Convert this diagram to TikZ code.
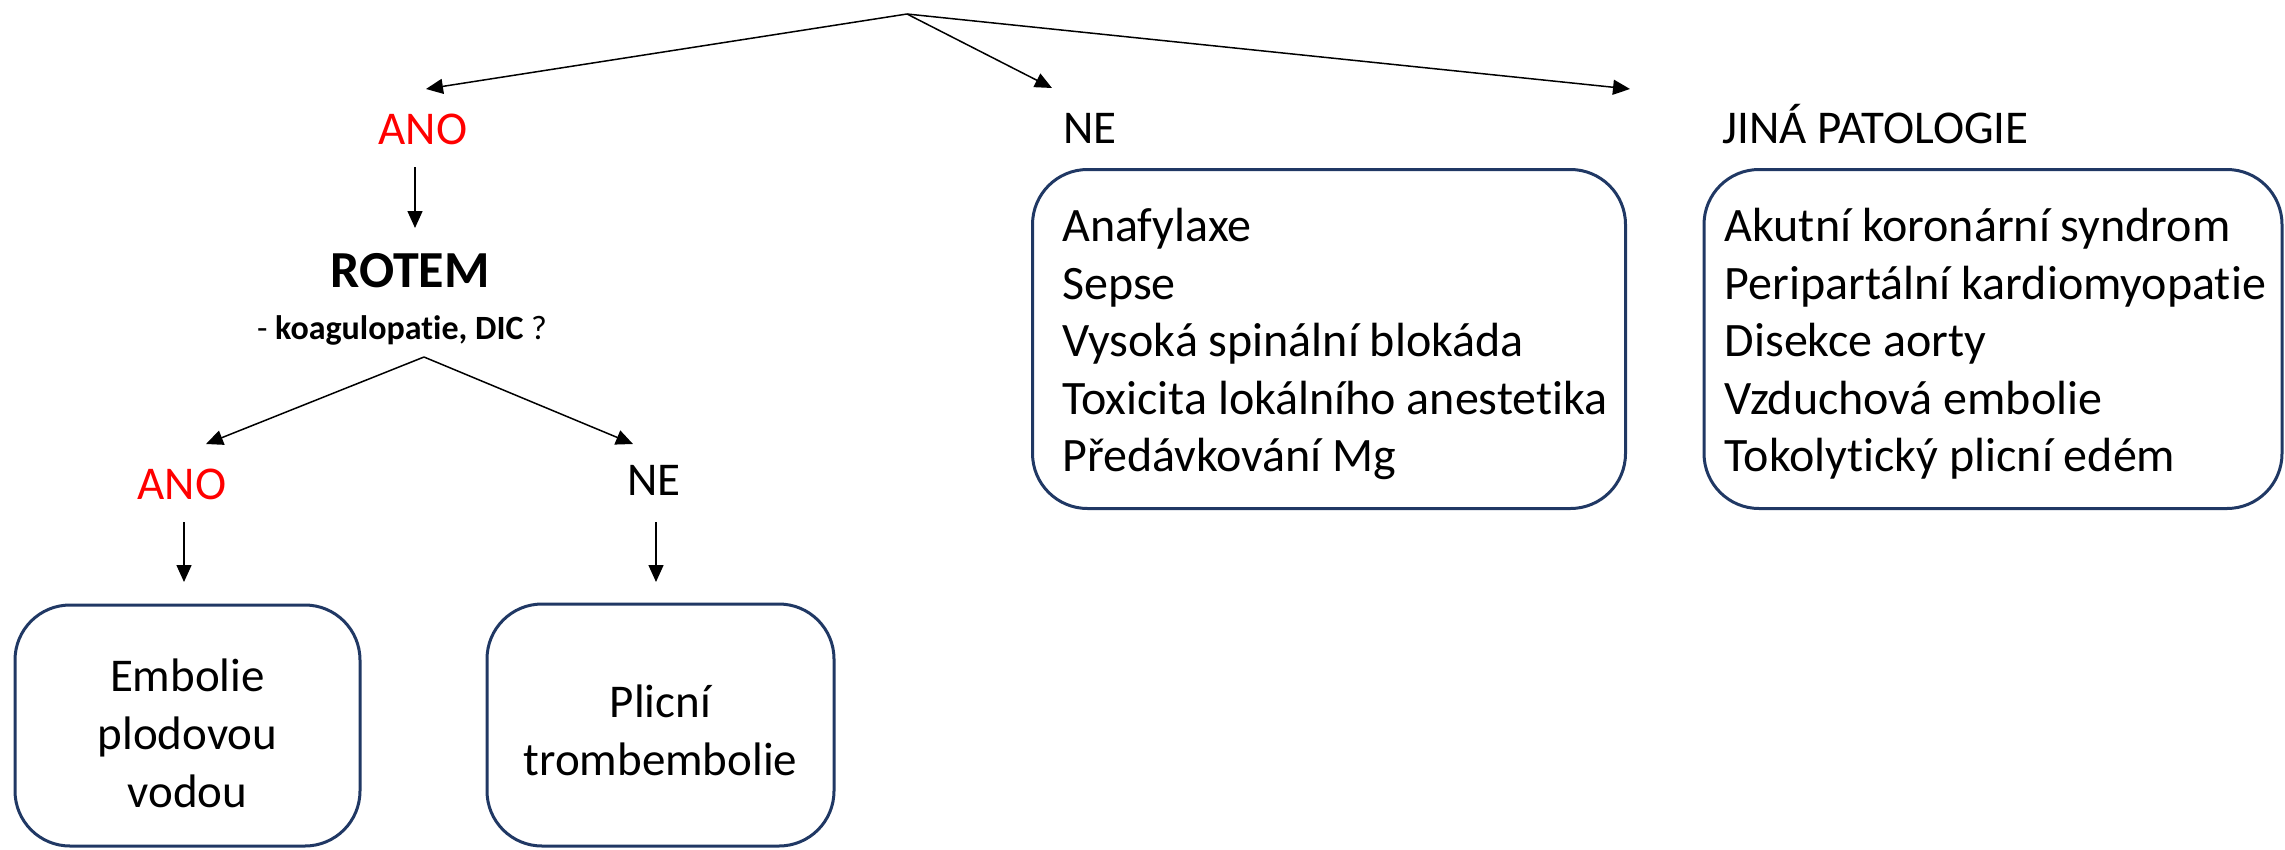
\documentclass[tikz,border=0pt]{standalone}
\usepackage{fontspec}
\setmainfont{Carlito}[Ligatures=NoCommon]
\usetikzlibrary{arrows.meta}
\definecolor{navy}{RGB}{32,56,100}
\definecolor{ared}{RGB}{255,0,0}
\begin{document}
\begin{tikzpicture}[x=1pt,y=-1pt,
  arr/.style={line width=1.5pt,-{Triangle[length=17pt,width=15pt]}},
  lbl/.style={inner sep=0pt,font=\fontsize{47}{56}\selectfont},
  boxshape/.style={draw=navy,line width=3pt,rounded corners=55pt,inner sep=0pt},
  listtext/.style={inner sep=0pt,align=left,font=\fontsize{48}{57.5}\selectfont},
  endtext/.style={inner sep=0pt,align=center,font=\fontsize{47}{58}\selectfont}]
\useasboundingbox (0,0) rectangle (2285,849);
% labels
\node[lbl,anchor=base,text=ared] (ano1) at (423,144) {ANO};
\node[lbl,anchor=base west] (ne1) at (1063,143) {NE};
\node[lbl,anchor=base west] (jina) at (1722,143) {JINÁ PATOLOGIE};
\node[inner sep=0pt,anchor=base,font=\fontsize{52}{60}\selectfont\bfseries] (rotem) at (410,287) {ROTEM};
\node[inner sep=0pt,anchor=base,font=\fontsize{34}{40}\selectfont] (sub) at (402,339) {- \textbf{koagulopatie, DIC} ?};
\node[lbl,anchor=base,text=ared] (ano2) at (182,499) {ANO};
\node[lbl,anchor=base] (ne2) at (654,495) {NE};
% boxes
\node[boxshape,minimum width=593pt,minimum height=339pt] (nebox) at (1329,339) {};
\node[boxshape,minimum width=578pt,minimum height=339pt] (jinabox) at (1993,339) {};
\node[boxshape,minimum width=345pt,minimum height=241pt] (epvbox) at (187.5,725.5) {};
\node[boxshape,minimum width=347pt,minimum height=242pt] (ptebox) at (660.5,725) {};
% box texts
\node[listtext,anchor=west] (nelist) at ([xshift=31pt,yshift=-5pt]nebox.west)
  {Anafylaxe\\Sepse\\Vysoká spinální blokáda\\Toxicita lokálního anestetika\\Předávkování Mg};
\node[listtext,anchor=west] (jinalist) at ([xshift=22pt,yshift=-5pt]jinabox.west)
  {Akutní koronární syndrom\\Peripartální kardiomyopatie\\Disekce aorty\\Vzduchová embolie\\Tokolytický plicní edém};
\node[endtext] (epv) at ([yshift=-8pt]epvbox.center) {Embolie\\plodovou\\vodou};
\node[endtext] (pte) at ([yshift=-5pt]ptebox.center) {Plicní\\trombembolie};
% connector points
\coordinate (apex) at (907,14);
\coordinate (t1) at (426,89);
\coordinate (t2) at (1052,88);
\coordinate (t3) at (1630,89);
\coordinate (v1s) at (415,167);
\coordinate (v1e) at (415,228);
\coordinate (split) at (424,357);
\coordinate (tl) at (206,444);
\coordinate (tr) at (633,444);
\coordinate (vls) at (184,522);
\coordinate (vle) at (184,582);
\coordinate (vrs) at (656,522);
\coordinate (vre) at (656,582);
\draw[arr] (apex) -- (t1);
\draw[arr] (apex) -- (t2);
\draw[arr] (apex) -- (t3);
\draw[arr] (v1s) -- (v1e);
\draw[arr] (split) -- (tl);
\draw[arr] (split) -- (tr);
\draw[arr] (vls) -- (vle);
\draw[arr] (vrs) -- (vre);
\end{tikzpicture}
\end{document}
